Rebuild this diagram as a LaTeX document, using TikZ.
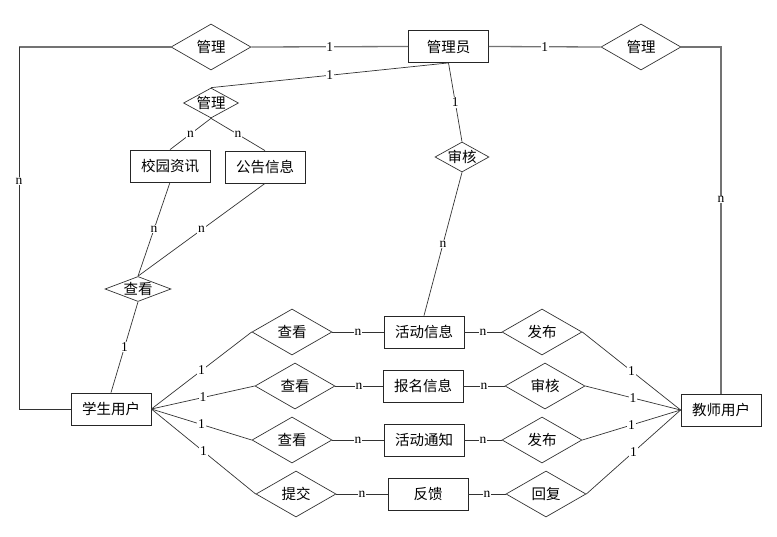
\documentclass[tikz,border=0pt]{standalone}
\usepackage{fontspec}
\setmainfont{Liberation Serif}
\newfontfamily\cjk{Noto Sans CJK SC}
\usetikzlibrary{shapes.geometric}
\begin{document}
\begin{tikzpicture}[x=1pt,y=-1pt,
  ent/.style={draw=black!85, line width=0.8pt, minimum width=80pt, minimum height=32pt, inner sep=0pt, font=\cjk\fontsize{14.5}{16}\selectfont},
  rel/.style={diamond, draw=black!80, line width=0.7pt, minimum width=80pt, minimum height=46pt, inner sep=0pt},
  rtext/.style={inner sep=0pt, font=\cjk\fontsize{14.5}{16}\selectfont},
  lnk/.style={draw=black!80, line width=0.7pt},
  glnk/.style={draw=black!55, line width=1.3pt},
  card/.style={fill=white, inner sep=0.8pt, font=\fontsize{13.5}{15}\selectfont}
]
\useasboundingbox (0,0) rectangle (777,536);

% entities
\node[ent] (adm) at (448.5,46.5) {管理员};
\node[ent] (news) at (170,166) {校园资讯};
\node[ent] (notice) at (265,167) {公告信息};
\node[ent] (stu) at (111,409) {学生用户};
\node[ent] (tea) at (721,410) {教师用户};
\node[ent] (act) at (424,332) {活动信息};
\node[ent] (reg) at (423,386) {报名信息};
\node[ent] (ann) at (424,440) {活动通知};
\node[ent] (fb) at (428,494) {反馈};

% relationships
\node[rel, label={[rtext]center:管理}] (mL) at (211,47) {};
\node[rel, label={[rtext]center:管理}] (mR) at (641,47) {};
\node[rel, minimum width=55pt, minimum height=30pt, label={[rtext]center:管理}] (mS) at (211,103) {};
\node[rel, minimum width=54pt, minimum height=30pt, label={[rtext]center:审核}] (aud) at (462,157) {};
\node[rel, minimum width=66pt, minimum height=25pt, label={[rtext]center:查看}] (vw) at (138,289) {};

\node[rel, label={[rtext]center:查看}] (v1) at (292,332) {};
\node[rel, label={[rtext]center:查看}] (v2) at (295,386) {};
\node[rel, label={[rtext]center:查看}] (v3) at (292,440) {};
\node[rel, label={[rtext]center:提交}] (sub) at (296,494) {};

\node[rel, label={[rtext]center:发布}] (p1) at (542,332) {};
\node[rel, label={[rtext]center:审核}] (ck) at (545,386) {};
\node[rel, label={[rtext]center:发布}] (p2) at (542,440) {};
\node[rel, label={[rtext]center:回复}] (rp) at (546,494) {};

\coordinate (c1) at (19,47);
\coordinate (c2) at (19,409);

% top connectors
\draw[glnk] (mL.east) -- node[card]{1} (adm.west);
\draw[glnk] (adm.east) -- node[card]{1} (mR.west);
\draw[glnk] (mL.west) -- (c1);
\draw[lnk] (c1) -- node[card, pos=0.37]{n} (c2) -- (stu.west);
\draw[glnk] (mR.east) -| node[card, pos=0.72]{n} (tea.north);

\draw[lnk] (adm.south) -- node[card]{1} (mS.north);
\draw[lnk] (adm.south) -- node[card]{1} (aud.north);
\draw[lnk] (mS.south) -- node[card]{n} (news.north);
\draw[lnk] (mS.south) -- node[card]{n} (notice.north);
\draw[lnk] (news.south) -- node[card]{n} (vw.north);
\draw[lnk] (notice.south) -- node[card]{n} (vw.north);
\draw[lnk] (vw.south) -- node[card]{1} (stu.north);
\draw[lnk] (aud.south) -- node[card]{n} (act.north);

% student side
\draw[lnk] (stu.east) -- node[card]{1} (v1.west);
\draw[lnk] (stu.east) -- node[card]{1} (v2.west);
\draw[lnk] (stu.east) -- node[card]{1} (v3.west);
\draw[lnk] (stu.east) -- node[card]{1} (sub.west);

\draw[lnk] (v1.east) -- node[card]{n} (act.west);
\draw[lnk] (v2.east) -- node[card]{n} (reg.west);
\draw[lnk] (v3.east) -- node[card]{n} (ann.west);
\draw[lnk] (sub.east) -- node[card]{n} (fb.west);

\draw[lnk] (act.east) -- node[card]{n} (p1.west);
\draw[lnk] (reg.east) -- node[card]{n} (ck.west);
\draw[lnk] (ann.east) -- node[card]{n} (p2.west);
\draw[lnk] (fb.east) -- node[card]{n} (rp.west);

% teacher side
\draw[lnk] (p1.east) -- node[card]{1} (tea.west);
\draw[lnk] (ck.east) -- node[card]{1} (tea.west);
\draw[lnk] (p2.east) -- node[card]{1} (tea.west);
\draw[lnk] (rp.east) -- node[card]{1} (tea.west);
\end{tikzpicture}
\end{document}
